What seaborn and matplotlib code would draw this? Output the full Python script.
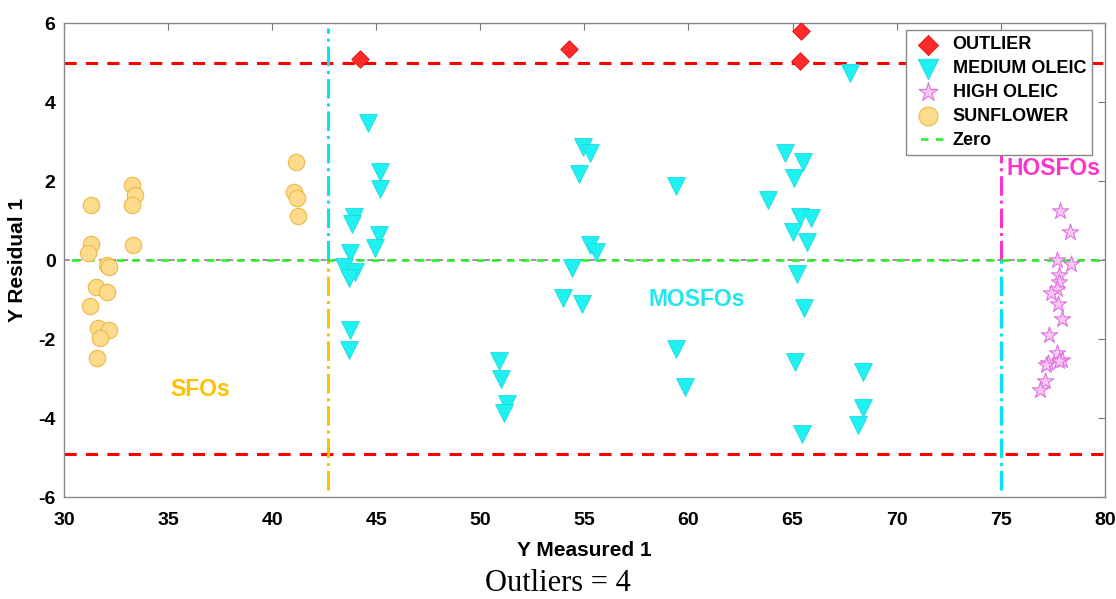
import numpy as np
import pandas as pd
import matplotlib
matplotlib.use("Agg")
import matplotlib.pyplot as plt
import seaborn as sns

sns.set_style("white")
plt.rcParams['font.family'] = ['Liberation Sans', 'DejaVu Sans']
plt.rcParams['axes.unicode_minus'] = False
plt.rcParams['text.color'] = 'black'
plt.rcParams['axes.labelcolor'] = 'black'
plt.rcParams['xtick.color'] = 'black'
plt.rcParams['ytick.color'] = 'black'

# Values
sun_x = [33.25, 33.41, 33.25, 31.28, 31.28, 31.17, 33.33, 32.05, 32.16, 31.52,
         32.05, 31.25, 31.65, 32.18, 31.73, 31.57, 41.15, 41.07, 41.19, 41.24]
sun_y = [1.90, 1.65, 1.39, 1.39, 0.40, 0.17, 0.38, -0.13, -0.17, -0.69,
         -0.80, -1.16, -1.73, -1.77, -1.96, -2.49, 2.47, 1.73, 1.58, 1.11]

mo_x = [44.62, 45.16, 45.19, 43.91, 43.83, 45.11, 44.92, 43.75, 43.46, 43.99,
        43.67, 43.72, 43.70,
        54.93, 55.26, 54.76, 55.26, 55.58, 54.41, 53.97, 54.89, 50.91, 51.01,
        51.28, 51.12,
        59.42, 59.42, 59.82,
        67.74, 64.62, 65.51, 65.06, 63.83, 65.38, 65.90, 65.01, 65.67, 65.19,
        65.54, 65.14, 68.40, 68.40, 68.16, 65.47]
mo_y = [3.47, 2.22, 1.81, 1.08, 0.91, 0.63, 0.30, 0.19, -0.17, -0.30,
        -0.46, -1.77, -2.28,
        2.85, 2.72, 2.17, 0.38, 0.21, -0.21, -0.97, -1.12, -2.55, -3.02,
        -3.63, -3.88,
        1.87, -2.24, -3.21,
        4.74, 2.70, 2.49, 2.09, 1.52, 1.10, 1.07, 0.70, 0.46, -0.34,
        -1.22, -2.57, -2.83, -3.75, -4.18, -4.39]

ho_x = [77.84, 78.32, 77.72, 78.37, 77.80, 77.80, 77.72, 77.40, 77.77, 77.96,
        77.32, 77.72, 77.96, 77.27, 77.16, 77.80, 77.12, 76.89]
ho_y = [1.25, 0.70, 0.00, -0.10, -0.38, -0.55, -0.72, -0.84, -1.10, -1.50,
        -1.90, -2.36, -2.53, -2.60, -2.66, -2.56, -3.05, -3.29]

out_x = [44.20, 54.25, 65.42, 65.38]
out_y = [5.08, 5.34, 5.81, 5.05]

upper_limit = 5.0
lower_limit = -4.9
sfo_cut = 42.7
hosfo_cut = 75.0

fig = plt.figure(figsize=(11.16, 5.99), dpi=100)
ax = fig.add_axes([0.0573, 0.170, 0.9327, 0.7916])

# limit lines
ax.plot([30, 80], [upper_limit, upper_limit], color='red', ls=(0, (4, 3)), lw=2.2, zorder=1)
ax.plot([30, 80], [lower_limit, lower_limit], color='red', ls=(0, (4, 3)), lw=2.2, zorder=1)

# class separators
ax.plot([sfo_cut, sfo_cut], [0, 5.87], color='#00e5ee', ls='-.', lw=2.2, zorder=1)
ax.plot([sfo_cut, sfo_cut], [-5.82, 0], color='#ffc000', ls='-.', lw=2.2, zorder=1)
ax.plot([hosfo_cut, hosfo_cut], [0, 5.7], color='#ff33cc', ls='-.', lw=2.2, zorder=1)
ax.plot([hosfo_cut, hosfo_cut], [-5.82, 0], color='#00e5ee', ls='-.', lw=2.2, zorder=1)

# zero line
ax.plot([30, 80], [0, 0], color='#999999', ls=(0, (3, 3)), lw=1.4, zorder=1)
ax.plot([30, 80], [0, 0], color='#22ee22', ls=(3, (3, 3)), lw=1.8, zorder=1, label='Zero')

sns.scatterplot(x=out_x, y=out_y, ax=ax, marker='D', s=80, color='#ff2a2a',
                edgecolor='#e01010', linewidth=0.6, label='OUTLIER', zorder=3)
sns.scatterplot(x=mo_x, y=mo_y, ax=ax, marker='v', s=165, color='#1ff0f0',
                edgecolor='#20d8e0', linewidth=0.6, label='MEDIUM OLEIC', zorder=3)
sns.scatterplot(x=ho_x, y=ho_y, ax=ax, marker='*', s=150, color='#f8c8f4',
                edgecolor='#e070e0', linewidth=0.8, label='HIGH OLEIC', zorder=3)
sns.scatterplot(x=sun_x, y=sun_y, ax=ax, marker='o', s=140, color='#fcdc8c',
                edgecolor='#efb848', linewidth=0.8, label='SUNFLOWER', zorder=3)

ax.text(36.55, -3.27, 'SFOs', color='#ffc000', fontsize=16.5, fontweight='bold',
        ha='center', va='center')
ax.text(60.4, -1.01, 'MOSFOs', color='#22e5ee', fontsize=16.5, fontweight='bold',
        ha='center', va='center')
ax.text(75.3, 2.33, 'HOSFOs', color='#ff33cc', fontsize=16.5, fontweight='bold',
        ha='left', va='center')

ax.set_xlim(30, 80)
ax.set_ylim(-6, 6)
ax.set_xticks(np.arange(30, 81, 5))
ax.set_yticks(np.arange(-6, 7, 2))
ax.tick_params(direction='in', top=True, right=True, length=5, color='#777777',
               labelcolor='black', labelsize=14)
ax.tick_params(axis='x', pad=11)
ax.tick_params(axis='y', pad=6)
for lab in ax.get_xticklabels() + ax.get_yticklabels():
    lab.set_fontweight('bold')
for sp in ax.spines.values():
    sp.set_color('#888888')
    sp.set_linewidth(1.0)

ax.set_xlabel('Y Measured 1', fontsize=15, fontweight='bold', labelpad=8)
ax.set_ylabel('Y Residual 1', fontsize=15, fontweight='bold', labelpad=8)

handles, labels = ax.get_legend_handles_labels()
order = ['OUTLIER', 'MEDIUM OLEIC', 'HIGH OLEIC', 'SUNFLOWER', 'Zero']
hmap = dict(zip(labels, handles))
leg = ax.legend([hmap[k] for k in order], order, loc='upper right',
                bbox_to_anchor=(0.988, 0.985), fancybox=False, framealpha=1,
                edgecolor='#888888', prop={'weight': 'bold', 'size': 13},
                handlelength=1.7, handletextpad=0.5, labelspacing=0.38,
                borderpad=0.35, borderaxespad=0, markerscale=1.15)
leg.set_zorder(5)

fig.text(0.5, 0.002, 'Outliers = 4', ha='center', va='bottom',
         fontsize=22, family=['Liberation Serif', 'DejaVu Serif'])

fig.savefig('out.png', dpi=100)
